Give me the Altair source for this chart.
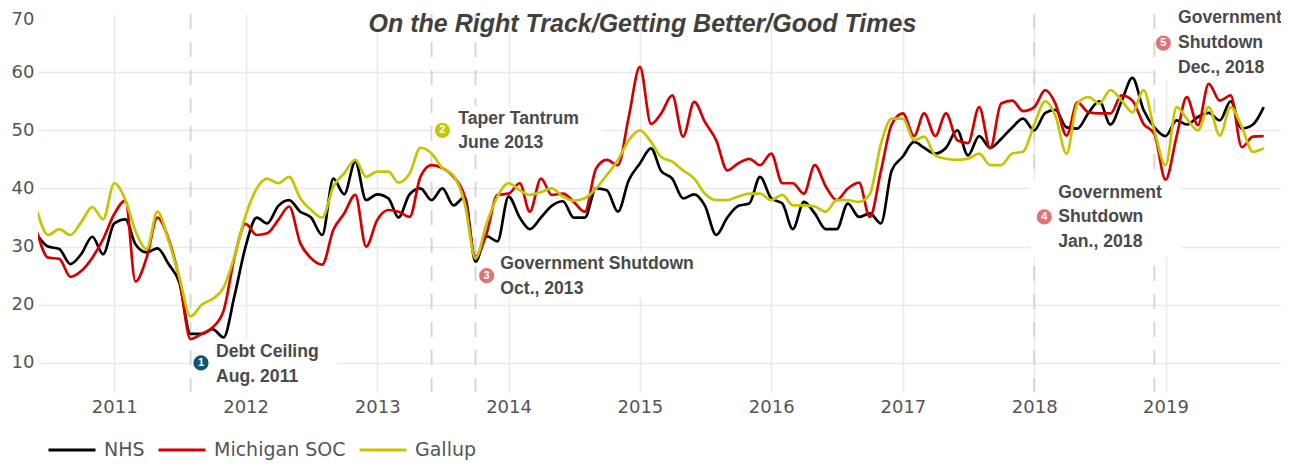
import altair as alt
import pandas as pd

# ---------------- data ----------------
series_names = ["NHS", "Michigan SOC", "Gallup"]
series_colors = ["#000000", "#d40000", "#c6c600"]

nhs = [32, 30, 29.6, 27, 28.7, 31.7, 28.7, 34, 34.7, 30.4,
       29, 29.7, 27, 23.8, 15, 15, 15.8, 14.4, 21.5, 30,
       35, 34, 37, 38, 36, 35, 32, 41.7, 39, 44.6,
       38, 39, 38.3, 35, 39, 40, 38, 40, 37.1, 38.5,
       27.4, 31.8, 30.9, 38.6, 35, 33, 35, 37, 37.8, 35,
       35, 40, 39.7, 36, 41.4, 44.3, 46.9, 43, 41.7, 38.3,
       39, 37, 32, 35, 37, 37.4, 42, 38.3, 37.4, 33,
       37.7, 35.7, 33, 33, 37.4, 35.1, 35.7, 34, 43.1, 45.5,
       48, 47, 46, 47, 50, 45.7, 49, 47, 48.5, 50.5,
       52, 50, 53, 53.5, 50.5, 50.3, 53, 55, 51, 55,
       59, 53.5, 50.5, 49, 51.7, 51, 52.3, 53, 51.7, 55,
       50.3, 51, 54]

michigan = [32.4, 28.1, 27.9, 24.8, 25.8, 28.1, 31.3, 35.6, 37.9, 24,
            28.1, 35, 31.3, 24.4, 14.1, 15, 16.1, 19, 28.1, 33.9,
            32, 32.3, 34.6, 36.9, 30.6, 28, 26.9, 32.9, 35.7, 38.9,
            30, 34.6, 36.3, 36, 35.1, 42, 44, 43.5, 42, 38.6,
            28.3, 32.3, 38.9, 39.1, 40.9, 36, 41.7, 38.9, 39.1, 37.7,
            36, 43.4, 44.9, 44, 52.3, 60.9, 51.1, 52.9, 56, 48.9,
            54.9, 51.4, 48.3, 43.1, 44.3, 45.1, 44, 46, 40.9, 40.9,
            39.1, 44, 40.3, 38, 40, 41, 35.1, 43, 51, 52.9,
            49, 52.9, 49, 52.9, 48.3, 47.8, 54, 46.9, 54.6, 55.1,
            53.3, 54, 56.9, 54.6, 49.1, 54.8, 53.1, 52.9, 52.9, 56,
            55.1, 51.1, 49.4, 41.5, 49, 55.7, 50.9, 58, 55.1, 56,
            47.1, 48.9, 49]

gallup = [36, 32, 33, 32, 34.2, 36.8, 34.7, 40.9, 38, 32.7,
          29.6, 36, 31, 24.7, 18, 20, 21, 23, 28.3, 35.3,
          40, 41.7, 40.9, 42, 38.3, 36.3, 35, 40.3, 42.6, 44.9,
          42, 42.9, 42.9, 41, 42.6, 47, 46, 43.5, 42.2, 37.4,
          28, 34, 38.6, 40.9, 39.7, 38.9, 39.4, 40, 38.6, 37.9,
          38.3, 40, 42.3, 44.9, 48.3, 50, 48, 45.4, 44.6, 43.1,
          41.7, 39.1, 38, 38, 38.6, 39.1, 39.1, 38, 38.9, 37.1,
          37.1, 36.9, 36, 38, 38, 37.7, 39, 47.7, 52, 52,
          48.3, 48.9, 45.7, 45.1, 44.9, 45.1, 46, 44, 44, 46,
          46.3, 51, 55, 52.5, 46, 54.6, 55.7, 54.6, 56.9, 55.1,
          53.1, 56.9, 50, 44, 54, 52, 50, 54, 49.1, 54,
          50.6, 46.3, 46.9]

months = pd.date_range("2010-06-01", periods=len(nhs), freq="MS").strftime("%Y-%m-%dT00:00:00").tolist()

event_dates = ["2011-08-01T00:00:00", "2013-06-01T00:00:00", "2013-10-01T00:00:00",
               "2018-01-01T00:00:00", "2018-12-01T00:00:00"]

marker_labels = ["1", "2", "3", "4", "5"]
marker_dates = ["2011-08-30T00:00:00", "2013-07-01T00:00:00", "2013-11-01T00:00:00",
                "2018-01-29T00:00:00", "2018-12-26T00:00:00"]
marker_values = [10.0, 50.0, 25.0, 35.1, 65.0]
marker_colors = ["#12566b", "#c6c600", "#e07474", "#e07474", "#e07474"]

note_texts = ["Debt Ceiling", "Aug. 2011",
              "Taper Tantrum", "June 2013",
              "Government Shutdown", "Oct., 2013",
              "Government", "Shutdown", "Jan., 2018",
              "Government", "Shutdown", "Dec., 2018"]
note_dates = ["2011-10-11T00:00:00"] * 2 + ["2013-08-14T00:00:00"] * 2 + \
             ["2013-12-09T00:00:00"] * 2 + ["2018-03-09T00:00:00"] * 3 + \
             ["2019-02-05T00:00:00"] * 3
note_values = [11.9, 7.6, 51.95, 47.8, 27.0, 22.7, 39.2, 35.1, 30.8, 69.3, 65.0, 60.7]

# white backgrounds behind each annotation (start, end, low, high)
box_starts = ["2011-08-05T00:00:00", "2013-06-04T00:00:00", "2013-10-10T00:00:00",
              "2017-12-21T00:00:00", "2018-12-07T00:00:00"]
box_ends = ["2012-09-12T00:00:00", "2014-09-18T00:00:00", "2015-07-21T00:00:00",
            "2019-02-14T00:00:00", "2019-11-18T00:00:00"]
box_lows = [5.4, 45.8, 21.2, 28.2, 58.7]
box_highs = [14.1, 54.2, 29.1, 41.5, 70.0]

title_text = ["On the Right Track/Getting Better/Good Times"]
title_dates = ["2015-01-08T00:00:00"]
title_values = [68.3]

# ---------------- tables ----------------
rows = []
for name, vals in zip(series_names, [nhs, michigan, gallup]):
    for d, v in zip(months, vals):
        rows.append({"date": d, "value": v, "series": name})
lines_df = pd.DataFrame(rows)
events_df = pd.DataFrame({"date": event_dates})
markers_df = pd.DataFrame({"date": marker_dates, "value": marker_values,
                           "label": marker_labels, "color": marker_colors})
notes_df = pd.DataFrame({"date": note_dates, "value": note_values, "text": note_texts})
boxes_df = pd.DataFrame({"date": box_starts, "date2": box_ends, "value": box_lows, "value2": box_highs})
title_df = pd.DataFrame({"date": title_dates, "value": title_values, "text": title_text})

x_scale = alt.Scale(domain=[alt.DateTime(year=2010, month=6, date=3),
                            alt.DateTime(year=2019, month=11, date=18)])
y_scale = alt.Scale(domain=[5, 70], nice=False, zero=False)

x_axis = alt.Axis(format="%Y", tickCount=alt.TimeIntervalStep(interval="year", step=1),
                  title=None, grid=True, domain=False, ticks=False, labelPadding=6)
y_axis = alt.Axis(values=[10, 20, 30, 40, 50, 60, 70], title=None, grid=True,
                  domain=False, ticks=False, labelPadding=4,
                  labelOffset={"condition": {"test": "datum.value == 70", "value": 5}, "value": 0},
                  gridOpacity={"condition": {"test": "datum.value == 70", "value": 0}, "value": 1})


def X():
    return alt.X("date:T", scale=x_scale, axis=x_axis, title=None)


def Y():
    return alt.Y("value:Q", scale=y_scale, axis=y_axis, title=None)


rules = alt.Chart(events_df).mark_rule(strokeDash=[15, 13], color="#d6d6d6", strokeWidth=2).encode(x=X())

boxes = alt.Chart(boxes_df).mark_rect(color="white", clip=True).encode(
    x=X(), x2="date2:T", y=Y(), y2="value2:Q")

lines = alt.Chart(lines_df).mark_line(interpolate="monotone", strokeWidth=2.7, clip=True).encode(
    x=X(), y=Y(),
    color=alt.Color("series:N", scale=alt.Scale(domain=series_names, range=series_colors),
                    legend=alt.Legend(orient="none", legendX=9, legendY=411, direction="horizontal",
                                      title=None, symbolType="stroke", symbolSize=2209,
                                      symbolStrokeWidth=3, labelFontSize=19, labelFont="DejaVu Sans",
                                      labelColor="#555555", labelOffset=7, columnPadding=7,
                                      labelLimit=400)),
)

circles = alt.Chart(markers_df).mark_circle(size=230, opacity=1).encode(
    x=X(), y=Y(), fill=alt.Fill("color:N", scale=None, legend=None))

circle_nums = alt.Chart(markers_df).mark_text(color="white", fontSize=11, fontWeight="bold",
                                               font="Liberation Sans", baseline="middle",
                                               align="center").encode(x=X(), y=Y(), text="label:N")

notes = alt.Chart(notes_df).mark_text(align="left", baseline="middle", fontSize=17.6,
                                       font="Liberation Sans", fontWeight="bold",
                                       color="#4a4a4a").encode(x=X(), y=Y(), text="text:N")

title = alt.Chart(title_df).mark_text(align="center", baseline="middle", fontSize=25,
                                       font="Liberation Sans", fontWeight="bold", fontStyle="italic",
                                       color="#404040").encode(x=X(), y=Y(), text="text:N")

chart = alt.layer(rules, boxes, lines, circles, circle_nums, notes, title).properties(
    width=1243, height=378,
    padding={"left": 30, "top": 6, "right": 0, "bottom": 68},
    autosize=alt.AutoSizeParams(type="none"),
).configure_view(stroke=None).configure_axis(
    labelFont="DejaVu Sans", labelFontSize=18, labelColor="#555555",
    gridColor="#e9e9e9", gridWidth=1.5,
)

chart.save("out.html", embed_options={"renderer": "svg", "actions": False})
